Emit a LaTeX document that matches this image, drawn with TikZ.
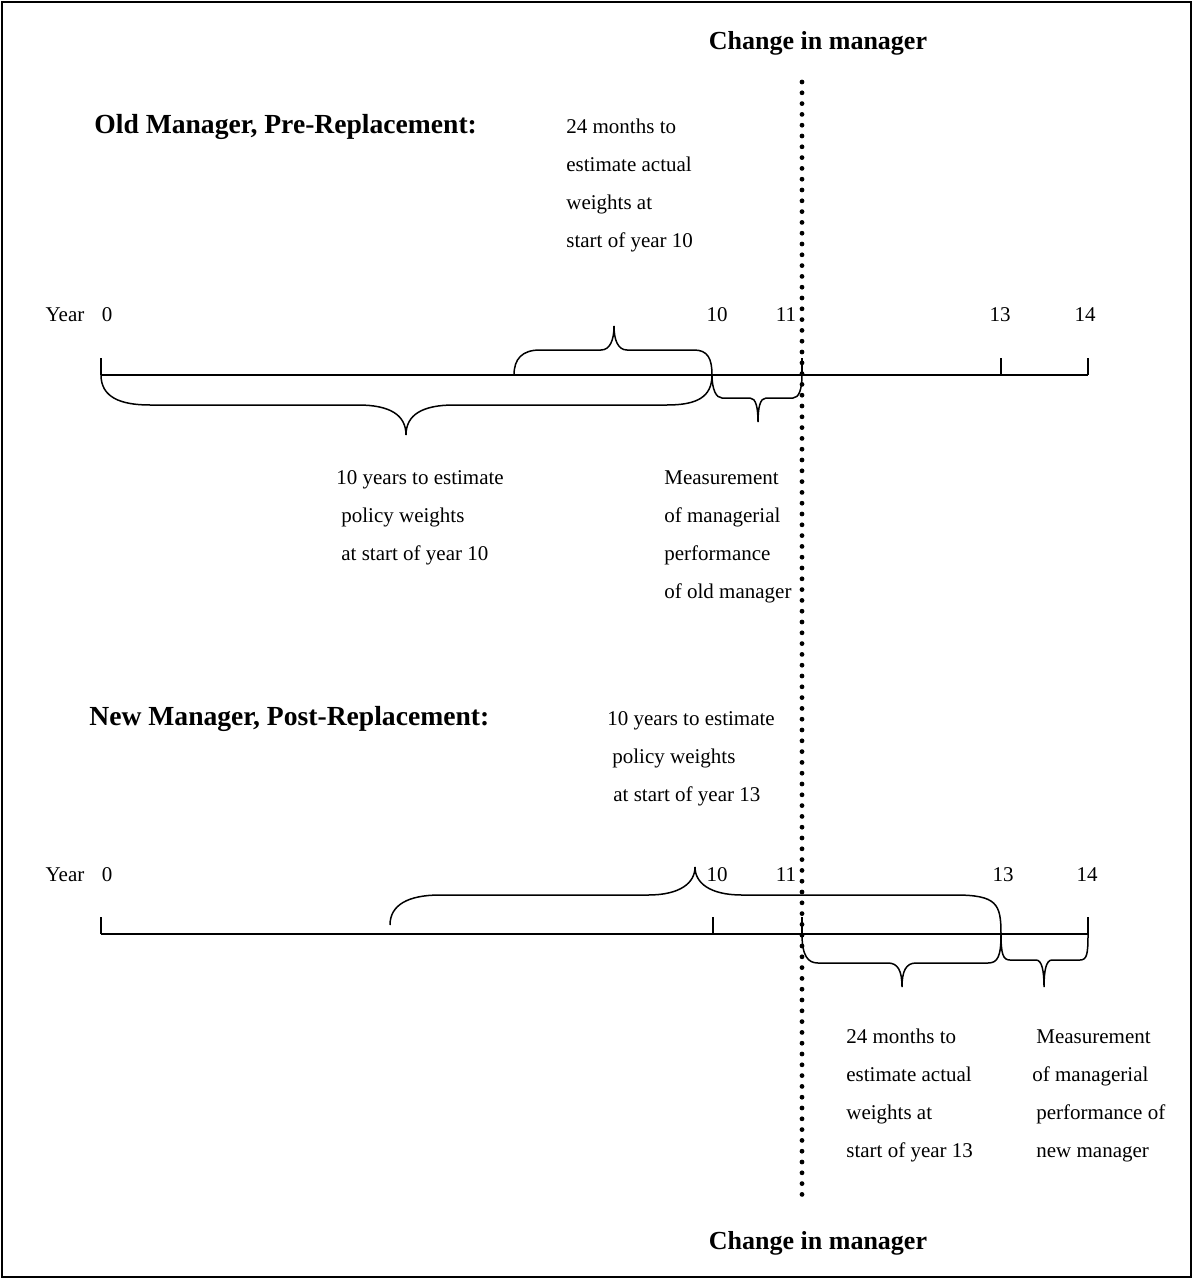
\documentclass[tikz,border=0pt]{standalone}
\usepackage{fontspec}
\setmainfont{Liberation Serif}
\usepackage{tikz}
\usetikzlibrary{positioning, calc}

\tikzset{
  txt/.style={font=\fontsize{10.5}{19}\selectfont, align=left, inner sep=0pt, anchor=north west},
  head/.style={font=\fontsize{13}{15}\selectfont\bfseries, inner sep=0pt},
  yr/.style={font=\fontsize{10.5}{12}\selectfont, inner sep=0pt},
  axis/.style={line width=0.75pt},
  brc/.style={line width=0.75pt},
  dots/.style={line width=2.4pt, line cap=round, dash pattern=on 0pt off 5.4pt},
}

\begin{document}
\begin{tikzpicture}[x=0.5pt, y=-0.5pt]
\useasboundingbox (0,0) rectangle (1193,1279);
\draw[line width=0.75pt] (2,2) rectangle (1191,1277);

% headings
\node[head] (chgtop) at (818,43) {Change in manager};
\node[head] (chgbot) at (818,1243) {Change in manager};
\node[head, anchor=west, font=\fontsize{13.8}{15}\selectfont\bfseries] (oldmgr) at (94,127) {Old Manager, Pre-Replacement:};
\node[head, anchor=west, font=\fontsize{13.8}{15}\selectfont\bfseries] (newmgr) at (89,719) {New Manager, Post-Replacement:};

% old manager timeline
\foreach \v/\x in {0/101,10/712,11/802,13/1001,14/1088}
  \coordinate (a\v) at (\x,375);
\node[yr] (yra) at (65,315) {Year};
\foreach \v/\x in {0/107,10/717,11/786,13/1000,14/1085}
  \node[yr] (la\v) at (\x,315) {\v};
\draw[axis] (a0) -- (a14);
\foreach \t in {a0,a11,a13,a14}
  \draw[axis] (\t) -- ++(0,-17);

\draw[brc] (a0) .. controls +(0,22) and +(-30,0) .. (150,405) -- (358,405)
  .. controls +(32,0) and +(0,-20) .. (406,435)
  .. controls +(0,-20) and +(-32,0) .. (454,405) -- (667,405)
  .. controls +(30,0) and +(0,22) .. (a10);
\draw[brc] (514,375) .. controls +(0,-16) and +(-18,0) .. (540,350) -- (601,350)
  .. controls +(9,0) and +(0,14) .. (614,326)
  .. controls +(0,14) and +(-9,0) .. (627,350) -- (694,350)
  .. controls +(14,0) and +(0,-16) .. (a10);
\draw[brc] (a10) .. controls +(0,14) and +(-6,0) .. (722,398) -- (750,398)
  .. controls +(6,0) and +(0,-14) .. (758,422)
  .. controls +(0,-14) and +(-6,0) .. (766,398) -- (793,398)
  .. controls +(6,0) and +(0,14) .. (a11);

\node[txt] (estA) at (566,119) {24 months to\\estimate actual\\weights at\\start of year 10};
\node[txt] (polA) at (336,470) {10 years to estimate\\\hspace*{2.5pt}policy weights\\\hspace*{2.5pt}at start of year 10};
\node[txt] (measA) at (664,470) {Measurement\\of managerial\\performance\\of old manager};

% new manager timeline
\foreach \v/\x in {0/101,10/713,11/802,13/1001,14/1088}
  \coordinate (b\v) at (\x,934);
\node[yr] (yrb) at (65,875) {Year};
\foreach \v/\x in {0/107,10/717,11/786,13/1003,14/1087}
  \node[yr] (lb\v) at (\x,875) {\v};
\draw[axis] (b0) -- (b14);
\foreach \t in {b0,b10,b11,b14}
  \draw[axis] (\t) -- ++(0,-17);

\draw[brc] (390,925) .. controls +(0,-20) and +(-32,0) .. (440,895) -- (648,895)
  .. controls +(32,0) and +(0,16) .. (695,867)
  .. controls +(0,16) and +(-32,0) .. (742,895) -- (955,895)
  .. controls +(42,0) and +(0,-30) .. (b13);
\draw[brc] (b11) .. controls +(0,22) and +(-10,0) .. (818,963) -- (888,963)
  .. controls +(10,0) and +(0,-16) .. (902,987)
  .. controls +(0,-16) and +(-10,0) .. (916,963) -- (988,963)
  .. controls +(10,0) and +(0,22) .. (b13);
\draw[brc] (b13) .. controls +(0,20) and +(-7,0) .. (1010,960) -- (1036,960)
  .. controls +(6,0) and +(0,-16) .. (1044,987)
  .. controls +(0,-16) and +(-6,0) .. (1052,960) -- (1080,960)
  .. controls +(7,0) and +(0,20) .. (b14);

\node[txt] (polB) at (607,711) {10 years to estimate\\\hspace*{2.5pt}policy weights\\\hspace*{3pt}at start of year 13};
\node[txt] (estB) at (846,1029) {24 months to\\estimate actual\\weights at\\start of year 13};
\node[txt] (measB) at (1036,1029) {Measurement\\\hspace*{-2pt}of managerial\\performance of\\new manager};

% change in manager
\coordinate (dtop) at (802,82);
\coordinate (dbot) at (802,1197);
\draw[dots] (dtop) -- (dbot);
\end{tikzpicture}
\end{document}
